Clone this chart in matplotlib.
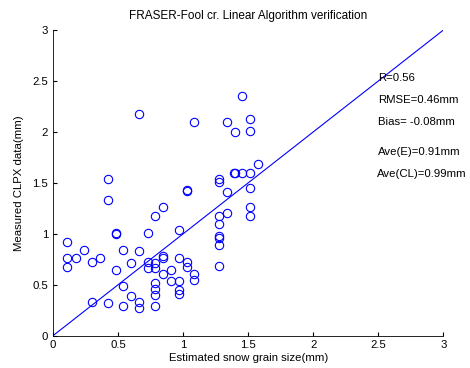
import matplotlib
matplotlib.use('Agg')
import matplotlib.pyplot as plt

plt.rcParams['font.family'] = ['Liberation Sans', 'DejaVu Sans']

# estimated grain size (mm) vs measured CLPX data (mm)
est = [0.66, 1.085, 1.335, 1.454, 1.395, 1.515, 1.515, 1.577,
       0.423, 0.423, 1.03, 1.03, 0.846, 0.78, 0.48, 0.48, 0.726, 0.967,
       0.11, 0.11, 0.11, 0.174, 0.236, 0.297, 0.36, 0.54, 0.60, 0.664,
       0.48, 0.726, 0.726, 0.78, 0.78, 0.846, 0.846, 0.846, 0.908, 0.908,
       0.97, 0.97, 0.97, 0.97, 1.03, 1.03, 1.085, 1.085,
       0.54, 0.78, 0.78, 0.78, 0.78, 0.60, 0.664, 0.664, 0.54, 0.423, 0.297,
       1.274, 1.274, 1.335, 1.274, 1.274, 1.335, 1.274, 1.274, 1.274, 1.274,
       1.39, 1.395, 1.454, 1.515, 1.515, 1.515, 1.515]
meas = [2.18, 2.10, 2.10, 2.35, 2.00, 2.13, 2.01, 1.69,
        1.54, 1.33, 1.43, 1.42, 1.26, 1.17, 1.005, 1.00, 1.005, 1.04,
        0.92, 0.76, 0.67, 0.76, 0.84, 0.72, 0.76, 0.84, 0.71, 0.83,
        0.64, 0.72, 0.66, 0.71, 0.66, 0.78, 0.76, 0.61, 0.64, 0.54,
        0.76, 0.54, 0.45, 0.41, 0.72, 0.67, 0.61, 0.55,
        0.49, 0.52, 0.46, 0.40, 0.29, 0.39, 0.33, 0.27, 0.29, 0.32, 0.33,
        1.54, 1.51, 1.41, 1.17, 1.10, 1.20, 0.98, 0.96, 0.89, 0.68,
        1.60, 1.60, 1.60, 1.60, 1.45, 1.26, 1.17]

stats = ['R=0.56', 'RMSE=0.46mm', 'Bias= -0.08mm', 'Ave(E)=0.91mm', 'Ave(CL)=0.99mm']
stats_pos = [(2.5, 2.53), (2.5, 2.31), (2.5, 2.10), (2.5, 1.80), (2.49, 1.59)]
ticks = [0, 0.5, 1, 1.5, 2, 2.5, 3]
tick_labels = ['0', '0.5', '1', '1.5', '2', '2.5', '3']

FS = 8.2

fig = plt.figure(figsize=(4.7, 3.68), dpi=100)
ax = fig.add_axes([0.113, 0.088, 0.830, 0.830])

ax.plot(est, meas, 'o', mfc='none', mec='blue', ms=6, mew=0.8)
ax.plot([0, 3], [0, 3], color='blue', lw=0.8)

for s, (x, y) in zip(stats, stats_pos):
    ax.text(x, y, s, fontsize=FS, va='center', ha='left')

ax.set_xlim(0, 3)
ax.set_ylim(0, 3)
ax.set_xticks(ticks)
ax.set_xticklabels(tick_labels)
ax.set_yticks(ticks)
ax.set_yticklabels(tick_labels)
ax.tick_params(direction='in', length=3, labelsize=FS, top=False, right=False)
for sp in ax.spines.values():
    sp.set_linewidth(0.6)
ax.spines['top'].set_visible(False)
ax.spines['right'].set_visible(False)

ax.set_xlabel('Estimated snow grain size(mm)', fontsize=FS, labelpad=2)
ax.set_ylabel('Measured CLPX data(mm)', fontsize=FS, labelpad=6)
ax.set_title('FRASER-Fool cr. Linear Algorithm verification', fontsize=FS + 0.3, pad=8)

fig.savefig('out.png', dpi=100)
